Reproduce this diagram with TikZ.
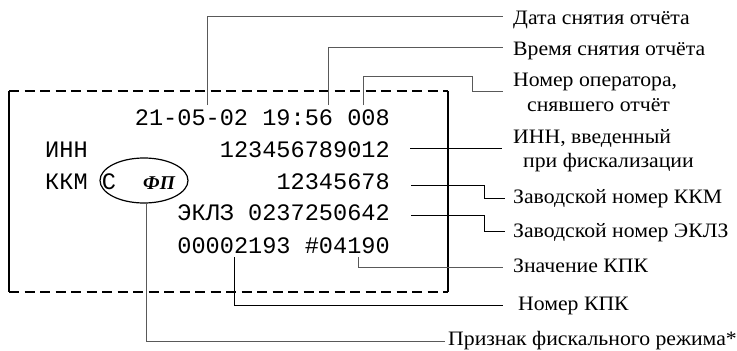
\documentclass[tikz,border=0pt]{standalone}
\usepackage{fontspec}
\setmainfont{Liberation Serif}
\newfontfamily\monofnt{Liberation Mono}
\newfontfamily\lblfnt{Liberation Serif}[FakeStretch=1.06]
\usetikzlibrary{shapes.geometric}
\begin{document}
\begin{tikzpicture}[x=1pt,y=-1pt,
  mono/.style={font=\monofnt\fontsize{23.6}{28}\selectfont, inner sep=0pt},
  lbl/.style={font=\lblfnt\fontsize{20.5}{25}\selectfont, inner sep=0pt, anchor=base west},
  conn/.style={draw=black!65, line width=0.9pt},
  connb/.style={draw=black, line width=0.9pt},
  frameside/.style={line width=1.5pt},
  framedash/.style={line width=1.5pt, dash pattern=on 10pt off 5.5pt},
]
\useasboundingbox (0,0) rectangle (737,351);
% receipt frame
\coordinate (fTL) at (9,91);
\coordinate (fTR) at (448,91);
\coordinate (fBL) at (9,292);
\coordinate (fBR) at (448,292);
\draw[framedash] (fTL) -- (fTR);
\draw[framedash] (fBL) -- (fBR);
\draw[frameside] (fTL) -- (fBL);
\draw[frameside] (fTR) -- (fBR);
% receipt text
\node[mono, anchor=base east] (l1) at (390,125) {21-05-02 19:56 008};
\node[mono, anchor=base east] (l2) at (390,157) {123456789012};
\node[mono, anchor=base east] (l3) at (390,189) {12345678};
\node[mono, anchor=base east] (l4) at (390,220) {ЭКЛЗ 0237250642};
\node[mono, anchor=base east] (l5) at (390,253) {00002193 \#04190};
\node[mono, anchor=base west] (inn) at (45,157) {ИНН};
\node[mono, anchor=base west] (kkm) at (45,189) {ККМ С};
\node[font=\bfseries\itshape\fontsize{19.5}{22}\selectfont, inner sep=0pt, anchor=base west] (fp) at (143,189) {ФП};
\node[draw, ellipse, line width=1.2pt, minimum width=88pt, minimum height=45pt, inner sep=0pt] (ov) at (144,180.5) {};
% labels
\node[lbl] (tDate) at (513,24) {Дата снятия отчёта};
\node[lbl] (tTime) at (513,55) {Время снятия отчёта};
\node[lbl] (tOp1) at (513,86) {Номер оператора,};
\node[lbl] (tOp2) at (527,111) {снявшего отчёт};
\node[lbl] (tInn1) at (513,143) {ИНН, введенный};
\node[lbl] (tInn2) at (523,167) {при фискализации};
\node[lbl] (tKkm) at (513,203) {Заводской номер ККМ};
\node[lbl] (tEklz) at (513,237) {Заводской номер ЭКЛЗ};
\node[lbl] (tZn) at (513,272) {Значение КПК};
\node[lbl] (tNom) at (518,310) {Номер КПК};
\node[lbl] (tPr) at (448,345) {Признак фискального режима*};
% connector points
\coordinate (dA) at (207,105);  \coordinate (dB) at (503,16);
\coordinate (tA) at (328,105);  \coordinate (tB) at (503,47);
\coordinate (oA) at (363,105);  \coordinate (oB) at (472,76); \coordinate (oC) at (503,91);
\coordinate (iA) at (410,148);  \coordinate (iB) at (502,148);
\coordinate (kA) at (411,185);  \coordinate (kB) at (484,198); \coordinate (kC) at (505,198);
\coordinate (eA) at (411,215);  \coordinate (eB) at (484,231); \coordinate (eC) at (505,231);
\coordinate (zA) at (358,257);  \coordinate (zB) at (503,267);
\coordinate (nA) at (234,257);  \coordinate (nB) at (503,305);
\coordinate (pB) at (445,341);
% connectors
\draw[conn] (dA) |- (dB);
\draw[conn] (tA) |- (tB);
\draw[conn] (oA) |- (oB) |- (oC);
\draw[connb] (iA) -- (iB);
\draw[connb] (kA) -| (kB) -- (kC);
\draw[connb] (eA) -| (eB) -- (eC);
\draw[conn] (zA) |- (zB);
\draw[connb] (nA) |- (nB);
\draw[conn] ([xshift=2pt]ov.south) |- (pB);
\end{tikzpicture}
\end{document}
